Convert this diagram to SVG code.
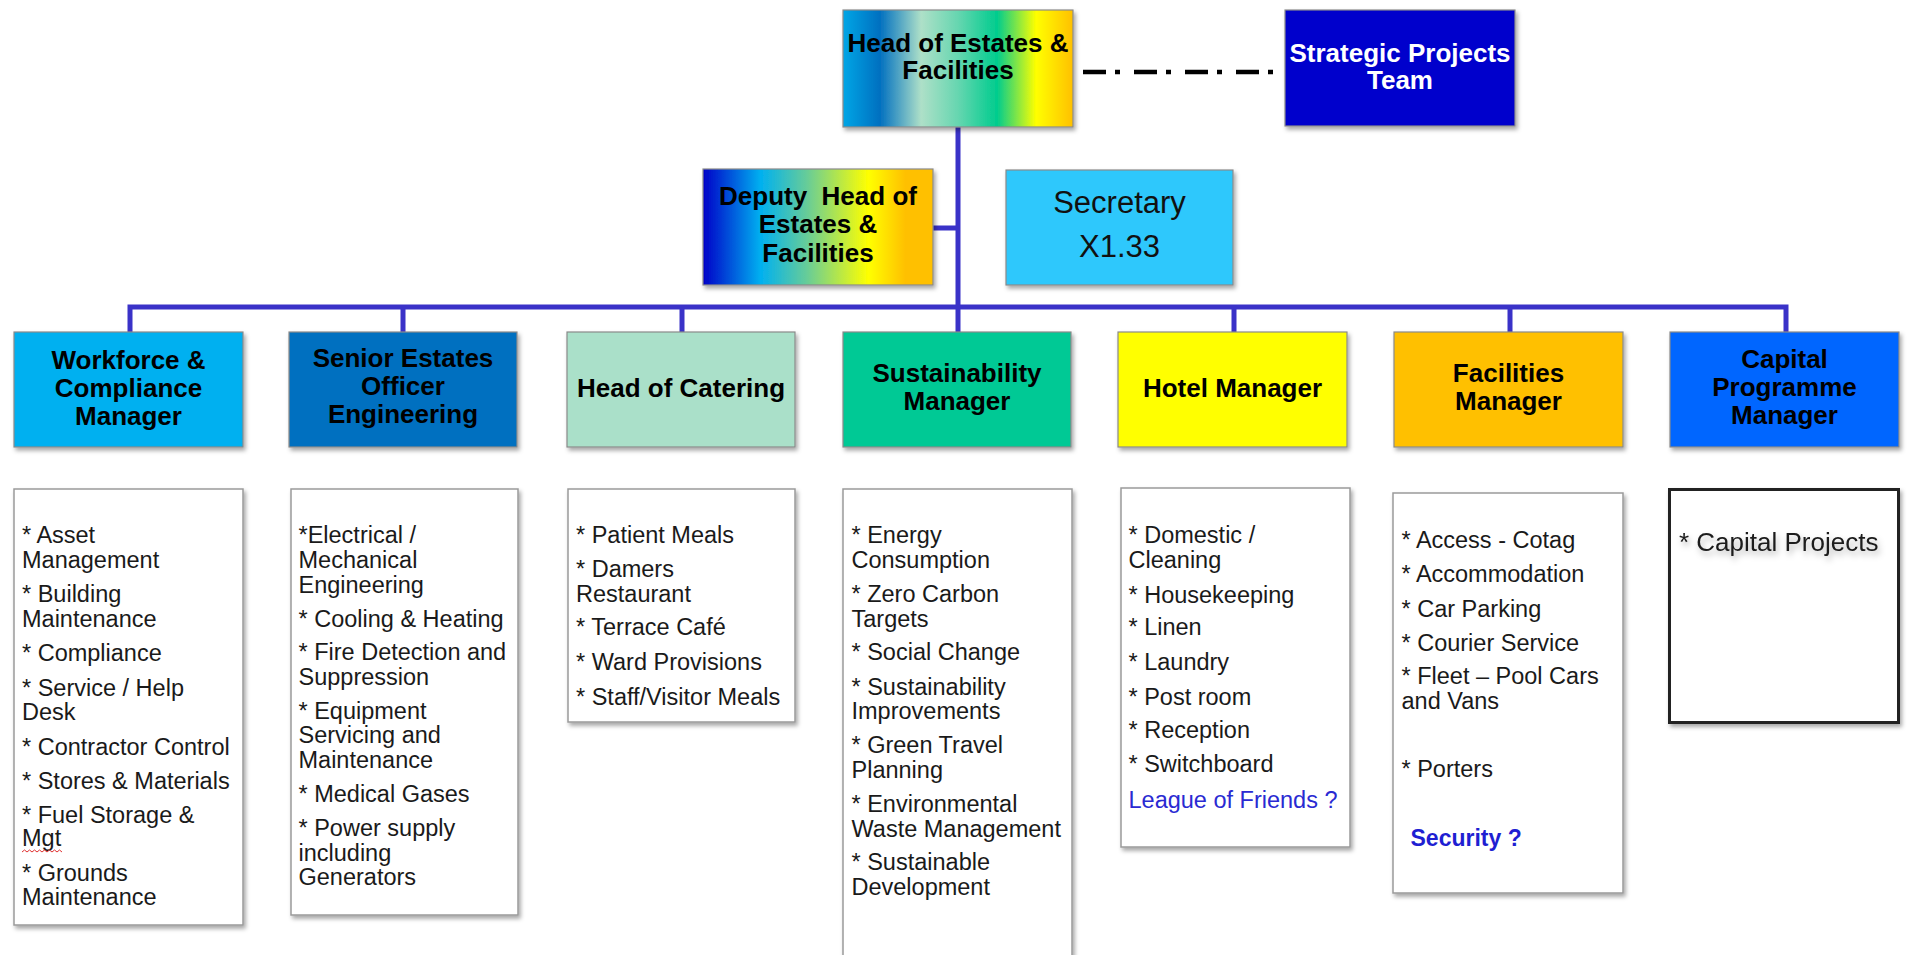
<svg xmlns="http://www.w3.org/2000/svg" width="1907" height="955" viewBox="0 0 1907 955">
<style>
.box{stroke:#8a8a8a;stroke-width:1.2;filter:url(#sh)}
.list{fill:#ffffff;stroke:#9a9a9a;stroke-width:1.5;filter:url(#sh)}
.hd{font-family:"Liberation Sans",Arial,sans-serif;font-weight:bold;font-size:26px;fill:#000;text-anchor:middle}
.li{font-family:"Liberation Sans",Arial,sans-serif;font-size:23.5px;fill:#1a1a1a}
.conn{fill:none;stroke:#3a32c8;stroke-width:5}
</style>
<defs>
<filter id="sh" x="-10%" y="-10%" width="125%" height="125%">
<feDropShadow dx="2" dy="3" stdDeviation="2" flood-color="#000" flood-opacity="0.35"/>
</filter>
<filter id="tsh" x="-10%" y="-50%" width="125%" height="250%">
<feDropShadow dx="2" dy="4" stdDeviation="3" flood-color="#000" flood-opacity="0.3"/>
</filter>
<linearGradient id="gHead" x1="0" y1="0" x2="1" y2="0">
<stop offset="0" stop-color="#00a6e6"/>
<stop offset="0.16" stop-color="#0070c0"/>
<stop offset="0.34" stop-color="#aee0c8"/>
<stop offset="0.5" stop-color="#66d6b0"/>
<stop offset="0.67" stop-color="#00cc8e"/>
<stop offset="0.84" stop-color="#ffff00"/>
<stop offset="1" stop-color="#ffc000"/>
</linearGradient>
<linearGradient id="gDep" x1="0" y1="0" x2="1" y2="0">
<stop offset="0" stop-color="#0000c8"/>
<stop offset="0.25" stop-color="#00b0f0"/>
<stop offset="0.45" stop-color="#66cc99"/>
<stop offset="0.72" stop-color="#ffff00"/>
<stop offset="0.88" stop-color="#ffc000"/>
<stop offset="1" stop-color="#ffc000"/>
</linearGradient>
</defs>
<rect width="1907" height="955" fill="#ffffff"/>

<g id="connectors">
<path class="conn" d="M958 127 V309 M933 228 H958 M127.5 307 H1788.5 M130 305 V332 M403 305 V332 M682 305 V332 M958 305 V332 M1234 305 V332 M1510 305 V332 M1786 305 V332"/>
<line x1="1083" y1="72" x2="1273" y2="72" stroke="#000" stroke-width="4.5" stroke-dasharray="23 9 5 14"/>
</g>

<g id="head">
<rect class="box" x="843" y="10" width="230" height="117" fill="url(#gHead)"/>
<text class="hd" x="958" y="52">Head of Estates &amp;</text>
<text class="hd" x="958" y="79">Facilities</text>
</g>

<g id="strategic">
<rect class="box" x="1285" y="10" width="230" height="116" fill="#0000cc"/>
<text class="hd" x="1400" y="62" style="fill:#ffffff">Strategic Projects</text>
<text class="hd" x="1400" y="89" style="fill:#ffffff">Team</text>
</g>

<g id="deputy">
<rect class="box" x="703" y="169" width="230" height="116" fill="url(#gDep)"/>
<text class="hd" x="818" y="205" xml:space="preserve">Deputy  Head of</text>
<text class="hd" x="818" y="233">Estates &amp;</text>
<text class="hd" x="818" y="262">Facilities</text>
</g>

<g id="secretary">
<rect class="box" x="1006" y="170" width="227" height="115" fill="#2ec8fc"/>
<text x="1119.5" y="213" font-family="Liberation Sans, Arial, sans-serif" font-size="31" text-anchor="middle" fill="#111">Secretary</text>
<text x="1119.5" y="257" font-family="Liberation Sans, Arial, sans-serif" font-size="31" text-anchor="middle" fill="#111">X1.33</text>
</g>

<g id="workforce">
<rect class="box" x="14" y="332" width="229" height="115" fill="#00b0f0"/>
<text class="hd" x="128.5" y="369">Workforce &amp;</text>
<text class="hd" x="128.5" y="397">Compliance</text>
<text class="hd" x="128.5" y="425">Manager</text>
</g>

<g id="senior">
<rect class="box" x="289" y="332" width="228" height="115" fill="#0070c0"/>
<text class="hd" x="403" y="367">Senior Estates</text>
<text class="hd" x="403" y="395">Officer</text>
<text class="hd" x="403" y="423">Engineering</text>
</g>

<g id="catering">
<rect class="box" x="567" y="332" width="228" height="115" fill="#aae0c9"/>
<text class="hd" x="681" y="397">Head of Catering</text>
</g>

<g id="sustainability">
<rect class="box" x="843" y="332" width="228" height="115" fill="#00c995"/>
<text class="hd" x="957" y="382">Sustainability</text>
<text class="hd" x="957" y="410">Manager</text>
</g>

<g id="hotel">
<rect class="box" x="1118" y="332" width="229" height="115" fill="#ffff00"/>
<text class="hd" x="1232.5" y="397">Hotel Manager</text>
</g>

<g id="facilities">
<rect class="box" x="1394" y="332" width="229" height="115" fill="#ffc000"/>
<text class="hd" x="1508.5" y="382">Facilities</text>
<text class="hd" x="1508.5" y="410">Manager</text>
</g>

<g id="capital">
<rect class="box" x="1670" y="332" width="229" height="115" fill="#0066ff"/>
<text class="hd" x="1784.5" y="368">Capital</text>
<text class="hd" x="1784.5" y="396">Programme</text>
<text class="hd" x="1784.5" y="424">Manager</text>
</g>

<g id="workforce-list">
<rect class="list" x="14" y="489" width="229" height="436"/>
<text class="li" x="22" y="543">* Asset</text>
<text class="li" x="22" y="568">Management</text>
<text class="li" x="22" y="602">* Building</text>
<text class="li" x="22" y="626.5">Maintenance</text>
<text class="li" x="22" y="661">* Compliance</text>
<text class="li" x="22" y="696">* Service / Help</text>
<text class="li" x="22" y="719.5">Desk</text>
<text class="li" x="22" y="754.5">* Contractor Control</text>
<text class="li" x="22" y="788.5">* Stores &amp; Materials</text>
<text class="li" x="22" y="822.5">* Fuel Storage &amp;</text>
<text class="li" x="22" y="846">Mgt</text>
<path d="M22 852 l2.5 -2 l2.5 2 l2.5 -2 l2.5 2 l2.5 -2 l2.5 2 l2.5 -2 l2.5 2 l2.5 -2 l2.5 2 l2.5 -2 l2.5 2 l2.5 -2 l2.5 2 l2.5 -2 l2.5 2" fill="none" stroke="#e03030" stroke-width="1"/>
<text class="li" x="22" y="881">* Grounds</text>
<text class="li" x="22" y="905">Maintenance</text>
</g>

<g id="senior-list">
<rect class="list" x="291" y="489" width="227" height="426"/>
<text class="li" x="298.5" y="543">*Electrical /</text>
<text class="li" x="298.5" y="568">Mechanical</text>
<text class="li" x="298.5" y="593">Engineering</text>
<text class="li" x="298.5" y="626.5">* Cooling &amp; Heating</text>
<text class="li" x="298.5" y="660">* Fire Detection and</text>
<text class="li" x="298.5" y="685">Suppression</text>
<text class="li" x="298.5" y="718.5">* Equipment</text>
<text class="li" x="298.5" y="743">Servicing and</text>
<text class="li" x="298.5" y="768">Maintenance</text>
<text class="li" x="298.5" y="801.5">* Medical Gases</text>
<text class="li" x="298.5" y="836">* Power supply</text>
<text class="li" x="298.5" y="861">including</text>
<text class="li" x="298.5" y="885">Generators</text>
</g>

<g id="catering-list">
<rect class="list" x="568" y="489" width="227" height="233"/>
<text class="li" x="576" y="543">* Patient Meals</text>
<text class="li" x="576" y="577">* Damers</text>
<text class="li" x="576" y="601.5">Restaurant</text>
<text class="li" x="576" y="635">* Terrace Café</text>
<text class="li" x="576" y="670">* Ward Provisions</text>
<text class="li" x="576" y="705">* Staff/Visitor Meals</text>
</g>

<g id="sustainability-list">
<rect class="list" x="843" y="489" width="229" height="480"/>
<text class="li" x="851.5" y="543">* Energy</text>
<text class="li" x="851.5" y="568">Consumption</text>
<text class="li" x="851.5" y="602">* Zero Carbon</text>
<text class="li" x="851.5" y="626.5">Targets</text>
<text class="li" x="851.5" y="660">* Social Change</text>
<text class="li" x="851.5" y="695">* Sustainability</text>
<text class="li" x="851.5" y="718.5">Improvements</text>
<text class="li" x="851.5" y="753">* Green Travel</text>
<text class="li" x="851.5" y="778">Planning</text>
<text class="li" x="851.5" y="811.5">* Environmental</text>
<text class="li" x="851.5" y="836.5">Waste Management</text>
<text class="li" x="851.5" y="870">* Sustainable</text>
<text class="li" x="851.5" y="895">Development</text>
</g>

<g id="hotel-list">
<rect class="list" x="1121" y="488" width="229" height="359"/>
<text class="li" x="1128.5" y="543">* Domestic /</text>
<text class="li" x="1128.5" y="568">Cleaning</text>
<text class="li" x="1128.5" y="603">* Housekeeping</text>
<text class="li" x="1128.5" y="635">* Linen</text>
<text class="li" x="1128.5" y="670">* Laundry</text>
<text class="li" x="1128.5" y="705">* Post room</text>
<text class="li" x="1128.5" y="738">* Reception</text>
<text class="li" x="1128.5" y="771.5">* Switchboard</text>
<text class="li" x="1128.5" y="808" style="fill:#2a2ad2">League of Friends ?</text>
</g>

<g id="facilities-list">
<rect class="list" x="1393" y="493" width="230" height="400"/>
<text class="li" x="1401.5" y="548">* Access - Cotag</text>
<text class="li" x="1401.5" y="582">* Accommodation</text>
<text class="li" x="1401.5" y="616.5">* Car Parking</text>
<text class="li" x="1401.5" y="650.5">* Courier Service</text>
<text class="li" x="1401.5" y="684">* Fleet – Pool Cars</text>
<text class="li" x="1401.5" y="709">and Vans</text>
<text class="li" x="1401.5" y="776.5">* Porters</text>
<text class="li" x="1410.5" y="846" style="fill:#1f1fd2;font-weight:bold;font-size:23px">Security ?</text>
</g>

<g id="capital-list">
<rect x="1669.5" y="489.5" width="229" height="233" fill="#ffffff" stroke="#222222" stroke-width="3" filter="url(#sh)"/>
<text class="li" x="1679" y="551" style="font-size:26px" filter="url(#tsh)">* Capital Projects</text>
</g>
</svg>
